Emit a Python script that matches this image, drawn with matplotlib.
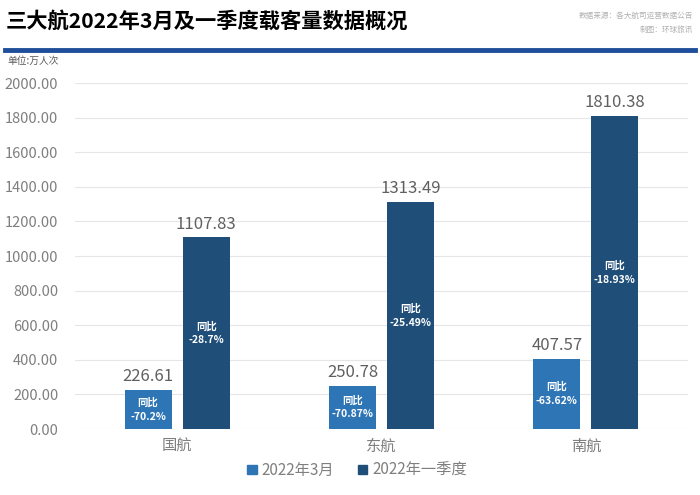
import matplotlib.pyplot as plt
import numpy as np
from matplotlib.patches import Patch

plt.rcParams['font.family'] = ['Noto Sans CJK SC', 'DejaVu Sans']

airlines = ['国航', '东航', '南航']
march = [226.61, 250.78, 407.57]
q1 = [1107.83, 1313.49, 1810.38]
march_yoy = ['-70.2%', '-70.87%', '-63.62%']
q1_yoy = ['-28.7%', '-25.49%', '-18.93%']
yticks = [0, 200, 400, 600, 800, 1000, 1200, 1400, 1600, 1800, 2000]

c_march = '#2e75b6'
c_q1 = '#1f4e79'
grey = '#7f7f7f'

fig = plt.figure(figsize=(7, 4.95), dpi=100)
ax = fig.add_axes([0.107, 0.1333, 0.876, 0.699])

x = np.arange(len(airlines))
w = 0.23
off = 0.142
b1 = ax.bar(x - off, march, w, color=c_march, zorder=3)
b2 = ax.bar(x + off, q1, w, color=c_q1, zorder=3)

for bars, vals, yoy in [(b1, march, march_yoy), (b2, q1, q1_yoy)]:
    for b, v, t in zip(bars, vals, yoy):
        cx = b.get_x() + b.get_width() / 2
        ax.text(cx, v + 25, f'{v:.2f}', ha='center', va='bottom',
                fontsize=12, color='#606060', fontweight='light')
        ax.text(cx, v / 2, '同比\n' + t, ha='center', va='center',
                fontsize=7.5, color='white', fontweight='bold', linespacing=1.5)

ax.set_xlim(-0.5, 2.5)
ax.set_ylim(0, 2000)
ax.set_yticks(yticks)
ax.set_yticklabels([f'{v:.2f}' for v in yticks], fontweight='light')
ax.set_xticks(x)
ax.set_xticklabels(airlines, fontweight='light')
ax.tick_params(axis='y', length=0, labelsize=10.5, labelcolor=grey, pad=12)
ax.tick_params(axis='x', length=0, labelsize=11, labelcolor=grey, pad=6)
ax.grid(axis='y', color='#e6e6e6', linewidth=0.8, zorder=0)
for s in ax.spines.values():
    s.set_visible(False)

# legend
handles = [Patch(color=c_march, label='2022年3月'), Patch(color=c_q1, label='2022年一季度')]
leg = fig.legend(handles=handles, loc='center', bbox_to_anchor=(0.51, 0.05), ncol=2,
                 frameon=False, fontsize=11, handlelength=0.6, handleheight=0.6,
                 handletextpad=0.3, columnspacing=1.6)
for t in leg.get_texts():
    t.set_color(grey)

# header
fig.text(0.008, 0.958, '三大航2022年3月及一季度载客量数据概况', fontsize=15.3,
         fontweight='bold', color='black', va='center', ha='left')
fig.text(0.99, 0.968, '数据来源：各大航司运营数据公告', fontsize=5.5, color='#b0b0b0',
         ha='right', va='center')
fig.text(0.99, 0.94, '制图：环球旅讯', fontsize=5.5, color='#b0b0b0',
         ha='right', va='center')
fig.add_artist(plt.Line2D([0.007, 0.993], [0.899, 0.899], color='#1f4e9a',
                          linewidth=3.5, transform=fig.transFigure))
fig.text(0.011, 0.877, '单位:万人次', fontsize=7, color='#595959', va='center')

fig.savefig('out.png', dpi=100)
